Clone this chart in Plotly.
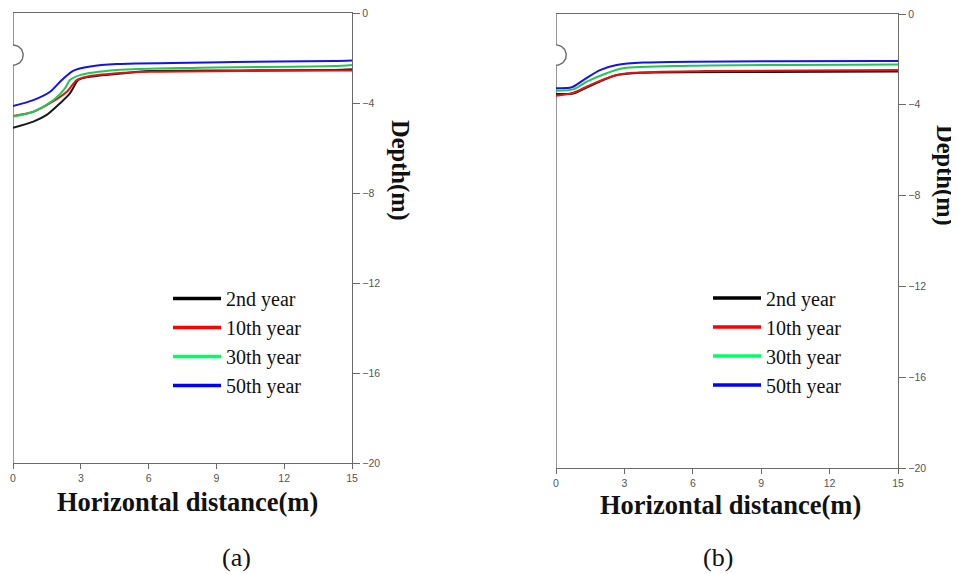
import numpy as np
import plotly.graph_objects as go

# ---------------- data ----------------
SERIES_NAMES = ["2nd year", "10th year", "30th year", "50th year"]
LINE_COLORS = ["#1a1a1a", "#e01414", "#22c657", "#1414e6"]
LEGEND_COLORS = ["#000000", "#ff0000", "#00ff66", "#0000ff"]

# panel (a)
A_X_2ND = [0, 0.9, 1.49, 2.08, 2.52, 2.89, 3.26, 4.59, 6.06, 10.0, 14.2, 15]
A_Y_2ND = [-5.10, -4.83, -4.53, -4.01, -3.57, -2.98, -2.86, -2.71, -2.58, -2.55, -2.53, -2.50]
A_X_10TH = [0, 0.9, 1.64, 2.38, 2.82, 3.26, 4.59, 6.06, 10.0, 14.2, 15]
A_Y_10TH = [-4.58, -4.39, -4.01, -3.50, -2.98, -2.83, -2.68, -2.61, -2.58, -2.56, -2.56]
A_X_30TH = [0, 0.9, 1.79, 2.30, 2.52, 2.96, 4.59, 8.27, 14.2, 15]
A_Y_30TH = [-4.60, -4.39, -3.87, -3.35, -2.98, -2.76, -2.53, -2.43, -2.36, -2.31]
A_X_50TH = [0, 0.9, 1.64, 2.16, 2.68, 3.42, 4.59, 9.75, 14.2, 15]
A_Y_50TH = [-4.13, -3.87, -3.50, -2.98, -2.56, -2.38, -2.27, -2.18, -2.13, -2.11]

# panel (b)
B_X_2ND = [0, 0.76, 1.49, 2.66, 3.68, 9.53, 15]
B_Y_2ND = [-3.52, -3.50, -3.17, -2.69, -2.59, -2.55, -2.53]
B_X_10TH = [0, 0.76, 1.49, 2.52, 3.39, 6.61, 15]
B_Y_10TH = [-3.60, -3.47, -3.13, -2.73, -2.59, -2.51, -2.47]
B_X_30TH = [0, 0.76, 1.35, 2.22, 2.95, 5.88, 15]
B_Y_30TH = [-3.38, -3.32, -2.98, -2.61, -2.39, -2.28, -2.22]
B_X_50TH = [0, 0.69, 1.20, 1.93, 2.66, 3.83, 15]
B_Y_50TH = [-3.27, -3.23, -2.91, -2.47, -2.25, -2.14, -2.07]

# tunnel (semicircular notch on left boundary)
TUNNEL_DEPTH_A = -1.87
TUNNEL_DEPTH_B = -1.81
TUNNEL_RADIUS = 0.45

X_RANGE = [0, 15]
Y_RANGE = [-20, 0]
X_TICKS = [0, 3, 6, 9, 12, 15]
Y_TICKS = [0, -4, -8, -12, -16, -20]

X_TITLE = "Horizontal distance(m)"
Y_TITLE = "Depth(m)"
PANEL_LABELS = ["(a)", "(b)"]

# ---------------- figure ----------------
PAGE_OFF = 8  # default body margin of the html page
W, H = 959 - PAGE_OFF, 574 - PAGE_OFF
fig = go.Figure()

AXIS_COLOR = "#6a6a6a"
SERIF = "Liberation Serif, Times New Roman, serif"
SANS = "Liberation Sans, Arial, sans-serif"

panels = [
    ("x", "y", [(A_X_2ND, A_Y_2ND), (A_X_10TH, A_Y_10TH), (A_X_30TH, A_Y_30TH), (A_X_50TH, A_Y_50TH)],
     TUNNEL_DEPTH_A, "legend"),
    ("x2", "y2", [(B_X_2ND, B_Y_2ND), (B_X_10TH, B_Y_10TH), (B_X_30TH, B_Y_30TH), (B_X_50TH, B_Y_50TH)],
     TUNNEL_DEPTH_B, "legend2"),
]

for xa, ya, series, tdepth, leg in panels:
    # left boundary with tunnel notch
    theta = np.linspace(np.pi / 2, -np.pi / 2, 40)
    bx = [0, 0] + list(TUNNEL_RADIUS * np.cos(theta)) + [0, 0]
    by = [Y_RANGE[1], tdepth + TUNNEL_RADIUS] + list(tdepth + TUNNEL_RADIUS * np.sin(theta)) + \
         [tdepth - TUNNEL_RADIUS, Y_RANGE[0]]
    fig.add_trace(go.Scatter(x=bx, y=by, xaxis=xa, yaxis=ya, mode="lines",
                             line=dict(color=AXIS_COLOR, width=1.4), showlegend=False,
                             hoverinfo="skip", cliponaxis=False))
    for (sx, sy), name, col in zip(series, SERIES_NAMES, LINE_COLORS):
        fig.add_trace(go.Scatter(x=sx, y=sy, xaxis=xa, yaxis=ya, mode="lines", name=name,
                                 line=dict(color=col, width=2, shape="spline", smoothing=0.8),
                                 showlegend=False))
    for name, col in zip(SERIES_NAMES, LEGEND_COLORS):
        fig.add_trace(go.Scatter(x=[None], y=[None], xaxis=xa, yaxis=ya, mode="lines", name=name,
                                 line=dict(color=col, width=3.5), showlegend=True, legend=leg))


def px_x(p):
    return (p - PAGE_OFF) / W


def px_y(p):
    return 1 - (p - PAGE_OFF) / H


xaxis_common = dict(range=X_RANGE, tickvals=X_TICKS, showline=True, linecolor=AXIS_COLOR,
                    linewidth=1.4, mirror=True, ticks="outside", ticklen=5, tickcolor=AXIS_COLOR,
                    tickfont=dict(family=SANS, size=10.5, color="#555"), showgrid=False,
                    zeroline=False, fixedrange=True, automargin=False, ticklabeloverflow="allow")
yaxis_common = dict(range=Y_RANGE, tickvals=Y_TICKS, side="right", showline=True,
                    linecolor=AXIS_COLOR, linewidth=1.4, ticks="outside", ticklen=7,
                    tickcolor=AXIS_COLOR, tickfont=dict(family=SANS, size=10.5, color="#555"),
                    showgrid=False, zeroline=False, fixedrange=True, automargin=False,
                    ticklabeloverflow="allow")

legend_common = dict(font=dict(family=SERIF, size=20, color="#111"), bgcolor="rgba(0,0,0,0)",
                     xanchor="left", yanchor="top", itemwidth=48, tracegroupgap=0)

fig.update_layout(
    width=W, height=H, margin=dict(l=0, r=0, t=0, b=0, autoexpand=False),
    paper_bgcolor="white", plot_bgcolor="white",
    xaxis=dict(domain=[px_x(13), px_x(352)], anchor="y", **xaxis_common),
    yaxis=dict(domain=[px_y(463), px_y(13)], anchor="x", **yaxis_common),
    xaxis2=dict(domain=[px_x(556), px_x(898)], anchor="y2", **xaxis_common),
    yaxis2=dict(domain=[px_y(468), px_y(14)], anchor="x2", **yaxis_common),
    legend=dict(x=px_x(168), y=px_y(279), **legend_common),
    legend2=dict(x=px_x(708), y=px_y(278.5), **legend_common),
    showlegend=True,
)

for xp, yp in [(187, 502), (730, 505)]:
    fig.add_annotation(xref="paper", yref="paper", xanchor="center", yanchor="middle",
                       showarrow=False, text="<b>" + X_TITLE + "</b>", x=px_x(xp), y=px_y(yp),
                       font=dict(family=SERIF, size=26.5, color="#111"))
for xp, yp in [(400, 170), (945, 175)]:
    fig.add_annotation(xref="paper", yref="paper", xanchor="center", yanchor="middle",
                       showarrow=False, text="<b>" + Y_TITLE + "</b>", textangle=90,
                       x=px_x(xp), y=px_y(yp), font=dict(family=SERIF, size=24.5, color="#111"))
for lbl, xp in zip(PANEL_LABELS, [236, 718]):
    fig.add_annotation(xref="paper", yref="paper", xanchor="center", yanchor="middle",
                       showarrow=False, text=lbl, x=px_x(xp), y=px_y(557),
                       font=dict(family=SERIF, size=26, color="#111"))

fig.write_html("out.html")
